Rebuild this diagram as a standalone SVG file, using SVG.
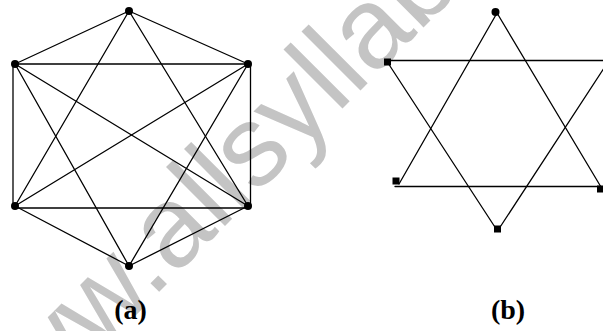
<svg xmlns="http://www.w3.org/2000/svg" width="603" height="331" viewBox="0 0 603 331">
<style>
.e{stroke:#000;stroke-width:1.3;fill:none;stroke-linecap:round}
.d{fill:#000}
.lbl{font-family:"Liberation Serif","Times New Roman",serif;font-weight:bold;font-size:28px;fill:#000;text-anchor:middle}
.wm{font-family:"Liberation Sans",Arial,sans-serif;font-size:115px;fill:#c4c4c4}
</style>
<rect width="603" height="331" fill="#fff"/>
<text class="wm" transform="translate(-20,471) rotate(-45)">www.allsyllabus.com</text>
<g id="edges-a">
<line class="e" x1="129" y1="11" x2="15" y2="64"/>
<line class="e" x1="129" y1="11" x2="248" y2="64"/>
<line class="e" x1="129" y1="11" x2="15" y2="206"/>
<line class="e" x1="129" y1="11" x2="248" y2="206"/>
<line class="e" x1="15" y1="64" x2="248" y2="64"/>
<line class="e" x1="13" y1="64" x2="13" y2="207"/>
<line class="e" x1="250.5" y1="64" x2="250.5" y2="207"/>
<line class="e" x1="15" y1="64" x2="248" y2="206"/>
<line class="e" x1="248" y1="64" x2="15" y2="206"/>
<line class="e" x1="15" y1="64" x2="129" y2="266"/>
<line class="e" x1="248" y1="64" x2="129" y2="266"/>
<line class="e" x1="15" y1="208" x2="248" y2="208"/>
<line class="e" x1="15" y1="206" x2="129" y2="266"/>
<line class="e" x1="248" y1="206" x2="129" y2="266"/>
</g>
<g id="a1"><circle class="d" cx="129" cy="11" r="4"/></g>
<g id="a2"><circle class="d" cx="15" cy="64" r="4"/></g>
<g id="a3"><circle class="d" cx="248" cy="64" r="4"/></g>
<g id="a4"><circle class="d" cx="15" cy="206" r="4"/></g>
<g id="a5"><circle class="d" cx="248" cy="206" r="4"/></g>
<g id="a6"><circle class="d" cx="129" cy="266" r="4"/></g>
<g id="edges-b">
<line class="e" x1="497" y1="13" x2="399" y2="184"/>
<line class="e" x1="497" y1="13" x2="601" y2="187"/>
<line class="e" x1="388" y1="63" x2="497.5" y2="231"/>
<line class="e" x1="497.5" y1="231" x2="609" y2="60.5"/>
<line class="e" x1="388" y1="60.5" x2="610" y2="60.5"/>
<line class="e" x1="395" y1="186.5" x2="601" y2="186.5"/>
</g>
<g id="b1"><circle class="d" cx="495.5" cy="12" r="4"/></g>
<g id="b2"><rect class="d" x="384" y="58.5" width="7" height="7"/></g>
<g id="b3"><rect class="d" x="392.5" y="177.5" width="7" height="7"/></g>
<g id="b4"><rect class="d" x="597" y="185.5" width="7" height="7"/></g>
<g id="b5"><rect class="d" x="494" y="225.5" width="7" height="7"/></g>
<g id="label-a"><text class="lbl" x="130.5" y="319">(a)</text></g>
<g id="label-b"><text class="lbl" x="508" y="319">(b)</text></g>
</svg>
